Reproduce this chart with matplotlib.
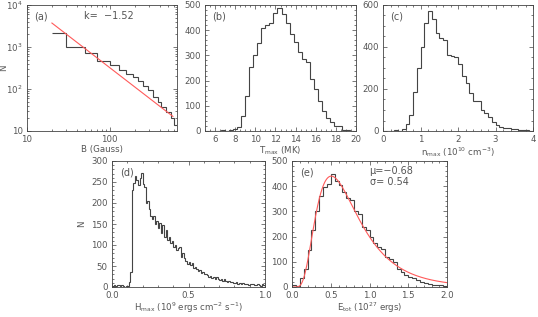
import numpy as np
import matplotlib
matplotlib.use("Agg")
import matplotlib.pyplot as plt
from matplotlib.ticker import MultipleLocator, AutoMinorLocator, FixedLocator, FixedFormatter, LogLocator, NullFormatter

plt.rcParams["font.family"] = "DejaVu Sans"
plt.rcParams["mathtext.default"] = "regular"

# (a) magnetic field, log bins
b_edges = [20, 30, 50, 70, 100, 128, 156, 190, 219, 253, 290, 333, 385, 420, 480, 550, 600, 650]
b_counts = [2150, 1000, 720, 465, 370, 280, 230, 195, 155, 118, 95, 65, 49, 37, 28, 20, 14]
k_slope = -1.52
k_amp = 10 ** 5.548          # N = amp * B^k
b_fit_range = [20, 580]

# (b) T_max, 0.4 MK bins from 5
t_counts = [0, 0, 1, 0, 2, 1, 3, 8, 15, 60, 140, 255, 300, 350, 410, 420, 430, 470,
            490, 465, 430, 385, 355, 315, 285, 275, 205, 165, 120, 80, 50, 35,
            20, 20, 3, 2, 0]
t_start, t_width = 5.0, 0.4

# (c) n_max, 0.1 bins
n_counts = [0, 0, 0, 3, 2, 10, 35, 78, 185, 300, 400, 515, 570, 535, 465, 445, 435,
            362, 358, 352, 318, 262, 228, 180, 142, 145, 100, 88, 68, 45, 30, 20,
            15, 12, 10, 8, 5, 4, 3, 2]
n_width = 0.1

# (d) H_max, 0.01 bins
h_counts = [2, 4, 3, 5, 4, 2, 5, 3, 1, 2, 3, 12, 35, 230, 248, 265, 255, 242, 260, 272,
            245, 238, 200, 205, 185, 170, 162, 168, 150, 158, 140, 152, 128, 148, 118,
            135, 112, 120, 105, 110, 95, 100, 88, 92, 96, 72, 80, 68, 62, 55, 60, 52,
            58, 45, 48, 42, 38, 40, 33, 35, 30, 32, 28, 25, 27, 22, 24, 20, 23, 18, 17,
            20, 15, 18, 14, 12, 15, 11, 13, 10, 9, 12, 8, 10, 7, 9, 6, 8, 7, 5, 7, 6, 8,
            5, 4, 6, 5, 3, 6, 4]
h_width = 0.01

# (e) E_tot, 0.05 bins, log-normal fit
e_counts = [8, 3, 35, 70, 145, 225, 300, 360, 395, 410, 450, 420, 405, 375, 355, 345,
            300, 290, 240, 228, 200, 175, 158, 150, 120, 110, 100, 70, 60, 48, 38, 36,
            26, 20, 16, 12, 9, 8, 7, 5]
e_width = 0.05
mu, sigma, e_amp = -0.68, 0.54, 440

fig = plt.figure(figsize=(5.38, 3.17), dpi=100)
W, H = 538, 317

def make_ax(x0, y0, x1, y1):
    return fig.add_axes([x0 / W, 1 - y1 / H, (x1 - x0) / W, (y1 - y0) / H])

axa = make_ax(27, 5, 177, 131)
axb = make_ax(205, 5, 356, 131)
axc = make_ax(383, 5, 533, 131)
axd = make_ax(112, 161, 265, 287)
axe = make_ax(292, 161, 447, 287)

hc = "#444444"
tc = "#555555"
fs = 6.2

for ax in [axa, axb, axc, axd, axe]:
    for s in ax.spines.values():
        s.set_linewidth(0.6)
        s.set_color(hc)
    ax.tick_params(which="both", direction="in", top=True, right=True,
                   labelsize=fs, colors=hc, labelcolor=tc, width=0.5)
    ax.tick_params(axis="x", pad=3)
    ax.tick_params(axis="y", pad=3)
    ax.tick_params(which="major", length=3)
    ax.tick_params(which="minor", length=1.6)

def txt(ax, x, y, s, **kw):
    ax.text(x, y, s, transform=ax.transAxes, fontsize=fs + 0.8, color=tc, va="top", **kw)

def xlab(ax, s):
    ax.set_xlabel(s, fontsize=fs, color=tc, labelpad=0.5)

# (a)
axa.stairs(b_counts, b_edges, baseline=None, color=hc, lw=0.8)
bf = np.array(b_fit_range, dtype=float)
axa.plot(bf, k_amp * bf ** k_slope, color="#ff5a5a", lw=0.8)
axa.set_xscale("log")
axa.set_yscale("log")
axa.set_xlim(10, 650)
axa.set_ylim(10, 1e4)
axa.xaxis.set_major_locator(FixedLocator([10, 100]))
axa.xaxis.set_major_formatter(FixedFormatter(["10", "100"]))
axa.xaxis.set_minor_locator(LogLocator(subs=np.arange(2, 10)))
axa.xaxis.set_minor_formatter(NullFormatter())
axa.yaxis.set_major_locator(FixedLocator([10, 100, 1000, 10000]))
axa.yaxis.set_major_formatter(FixedFormatter(["10", "10$^2$", "10$^3$", "10$^4$"]))
axa.yaxis.set_minor_locator(LogLocator(subs=np.arange(2, 10)))
axa.yaxis.set_minor_formatter(NullFormatter())
xlab(axa, "B (Gauss)")
axa.set_ylabel("N", fontsize=fs, color=tc)
axa.yaxis.set_label_coords(-0.125, 0.5)
txt(axa, 0.05, 0.95, "(a)")
txt(axa, 0.38, 0.95, "k=  \u22121.52")

# (b)
t_edges = t_start + t_width * np.arange(len(t_counts) + 1)
axb.stairs(t_counts, t_edges, color=hc, lw=0.8)
axb.set_xlim(5, 20)
axb.set_ylim(0, 500)
axb.xaxis.set_major_locator(MultipleLocator(2))
axb.xaxis.set_minor_locator(MultipleLocator(0.5))
axb.yaxis.set_major_locator(MultipleLocator(100))
axb.yaxis.set_minor_locator(AutoMinorLocator(5))
xlab(axb, "T$_{max}$ (MK)")
txt(axb, 0.05, 0.95, "(b)")

# (c)
n_edges = n_width * np.arange(len(n_counts) + 1)
axc.stairs(n_counts, n_edges, color=hc, lw=0.8)
axc.set_xlim(0, 4)
axc.set_ylim(0, 600)
axc.xaxis.set_major_locator(MultipleLocator(1))
axc.xaxis.set_minor_locator(AutoMinorLocator(5))
axc.yaxis.set_major_locator(MultipleLocator(200))
axc.yaxis.set_minor_locator(AutoMinorLocator(4))
xlab(axc, "n$_{max}$ (10$^{10}$ cm$^{-3}$)")
txt(axc, 0.05, 0.95, "(c)")

# (d)
h_edges = h_width * np.arange(len(h_counts) + 1)
axd.stairs(h_counts, h_edges, color=hc, lw=0.8)
axd.set_xlim(0, 1)
axd.set_ylim(0, 300)
axd.xaxis.set_major_locator(MultipleLocator(0.5))
axd.xaxis.set_major_formatter(lambda v, p: f"{v:.1f}")
axd.xaxis.set_minor_locator(AutoMinorLocator(5))
axd.yaxis.set_major_locator(MultipleLocator(50))
axd.yaxis.set_minor_locator(AutoMinorLocator(5))
xlab(axd, "H$_{max}$ (10$^9$ ergs cm$^{-2}$ s$^{-1}$)")
axd.set_ylabel("N", fontsize=fs, color=tc)
axd.yaxis.set_label_coords(-0.17, 0.5)
txt(axd, 0.05, 0.95, "(d)")

# (e)
e_edges = e_width * np.arange(len(e_counts) + 1)
axe.stairs(e_counts, e_edges, color=hc, lw=0.8)
ef = np.linspace(0.02, 2.0, 300)
axe.plot(ef, e_amp * np.exp(-(np.log(ef) - mu) ** 2 / (2 * sigma ** 2)), color="#ff5a5a", lw=0.8)
axe.set_xlim(0, 2)
axe.set_ylim(0, 500)
axe.xaxis.set_major_locator(MultipleLocator(0.5))
axe.xaxis.set_major_formatter(lambda v, p: f"{v:.1f}")
axe.xaxis.set_minor_locator(AutoMinorLocator(5))
axe.yaxis.set_major_locator(MultipleLocator(100))
axe.yaxis.set_minor_locator(AutoMinorLocator(5))
xlab(axe, "E$_{tot}$ (10$^{27}$ ergs)")
txt(axe, 0.05, 0.95, "(e)")
txt(axe, 0.5, 0.96, "\u03bc=\u22120.68\n\u03c3= 0.54", linespacing=1.1)

fig.savefig("out.png", dpi=100)
